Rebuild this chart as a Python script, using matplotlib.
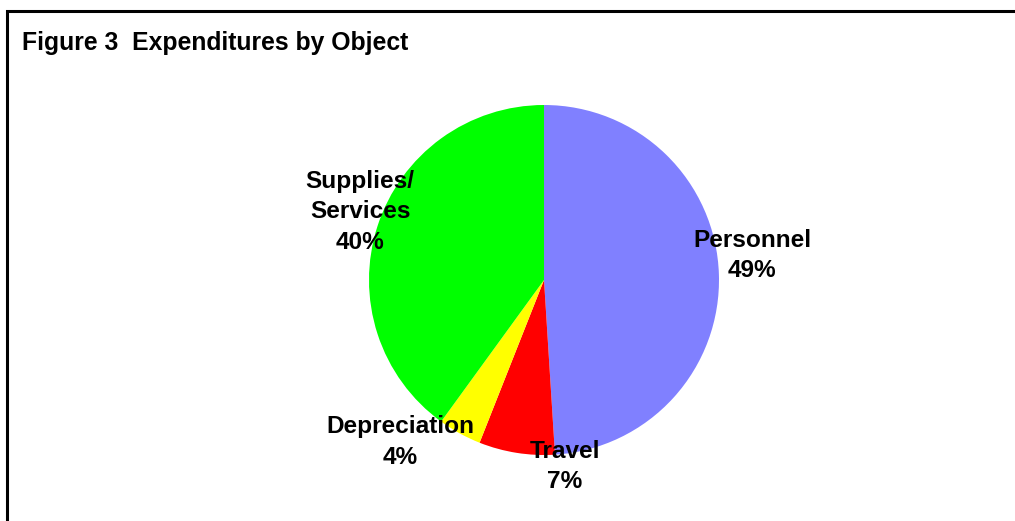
import matplotlib.pyplot as plt
from matplotlib.patches import Rectangle

# data
categories = ['Personnel', 'Travel', 'Depreciation', 'Supplies/\nServices']
shares = [49, 7, 4, 40]
colors = ['#8080FF', '#FF0000', '#FFFF00', '#00FF00']

# label centres in pie units (radius = 1)
label_pos = [(1.19, 0.14), (0.12, -1.065), (-0.82, -0.925), (-1.05, 0.39)]

plt.rcParams['font.family'] = ['Liberation Sans', 'DejaVu Sans']

W, H = 1015, 521
fig = plt.figure(figsize=(W / 100, H / 100), dpi=100)

# outer frame (cut off at right and bottom like the original)
fig.patches.append(Rectangle((7 / W, -0.1), 1.2, 1 - 11 / H + 0.1,
                             transform=fig.transFigure, fill=False,
                             edgecolor='black', linewidth=2.2))

fig.text(22 / W, 1 - 43 / H, 'Figure 3  Expenditures by Object',
         fontsize=17.8, fontweight='bold', va='center', ha='left')

cx, cy, r = 544, 280, 175
ax = fig.add_axes([(cx - r) / W, (H - cy - r) / H, 2 * r / W, 2 * r / H])
ax.pie(shares, colors=colors, startangle=90, counterclock=False,
       radius=1, wedgeprops=dict(linewidth=0))
ax.set_xlim(-1, 1)
ax.set_ylim(-1, 1)
ax.set_aspect('equal')
ax.axis('off')

for name, val, (x, y) in zip(categories, shares, label_pos):
    ax.text(x, y, f'{name}\n{val}%', ha='center', va='center',
            fontsize=17.6, fontweight='bold', linespacing=1.42, clip_on=False)

fig.savefig('out.png', dpi=100)
